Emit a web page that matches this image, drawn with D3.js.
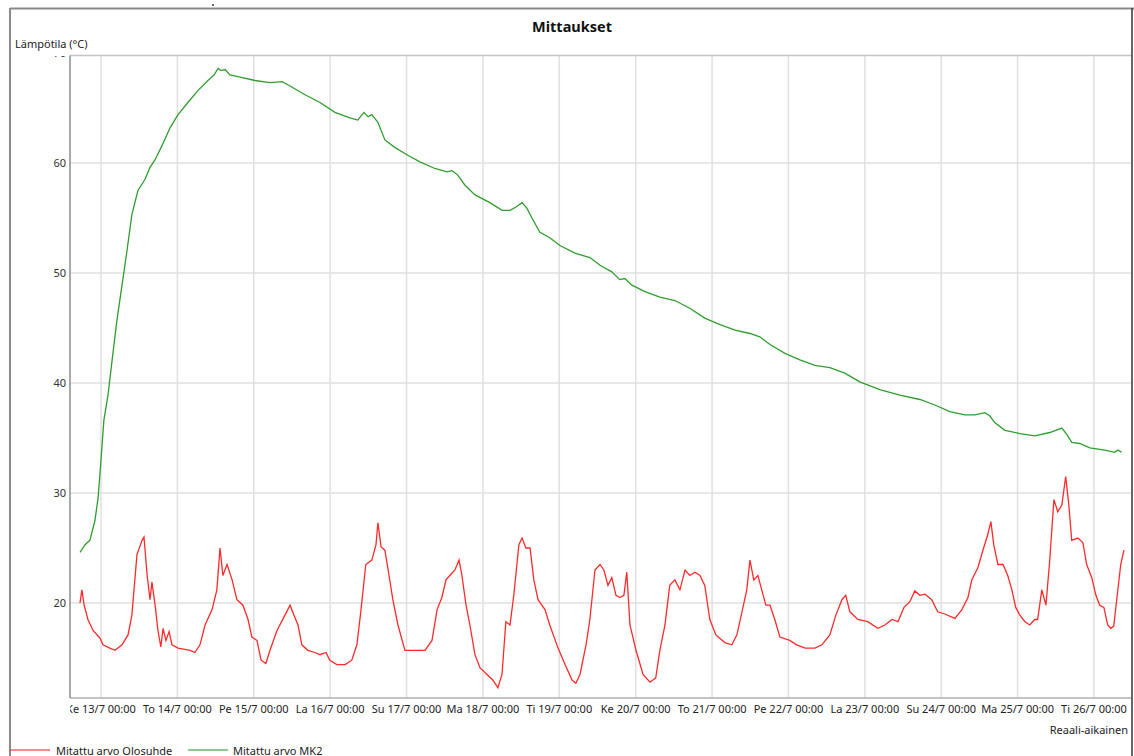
<!DOCTYPE html>
<html><head><meta charset="utf-8">
<script src="https://cdn.jsdelivr.net/npm/d3@7"></script>
<style>
html,body{margin:0;padding:0;background:#fff;}
svg{display:block;font-family:"Noto Sans","Open Sans",sans-serif;}
</style></head>
<body>
<script>
// ---------- data (hours since 12/7 00:00) ----------
const chartTitle = "Mittaukset";
const yAxisLabel = "Lämpötila (°C)";
const xAxisLabel = "Reaali-aikainen";
const seriesNames = ["Mitattu arvo Olosuhde", "Mitattu arvo MK2"];
const xTickLabels = ["Ke 13/7 00:00","To 14/7 00:00","Pe 15/7 00:00","La 16/7 00:00","Su 17/7 00:00","Ma 18/7 00:00","Ti 19/7 00:00","Ke 20/7 00:00","To 21/7 00:00","Pe 22/7 00:00","La 23/7 00:00","Su 24/7 00:00","Ma 25/7 00:00","Ti 26/7 00:00"];
const yTicks = [20, 30, 40, 50, 60, 70];

const mk2Hours = [17.4,19.0,20.5,22.1,23.1,24,24.9,26.2,27.5,29.0,30.6,32.2,33.7,35.6,37.8,39.4,41.0,43.2,45.7,48.2,51.3,54.5,57.6,59.5,60.8,61.7,63.0,64.5,67.7,72.4,77.1,80.9,83.4,88.1,92.8,97.5,102.2,104.7,106.6,107.9,109.1,111.0,113.2,116.4,120.4,124.2,128.9,132.7,134.3,136.1,138.3,141.5,146.2,150.0,152.5,154.4,156.3,157.8,159.4,161.9,165.0,168.2,172.9,177.6,180.8,184.5,187.0,188.6,190.8,194.9,199.6,204.3,209.0,213.7,218.5,223.2,227.9,231.0,234.2,238.9,243.6,248.3,253.0,257.7,262.4,268.7,275.0,281.3,286.0,290.7,295.4,298.6,301.7,303.3,304.8,308.0,312.7,317.4,322.1,325.9,327.5,329.0,331.5,334.7,339.4,342.5,343.5,344.7];
const mk2Values = [24.6,25.3,25.7,27.5,29.6,33,36.6,38.9,42.1,45.7,48.9,52.1,55.3,57.5,58.5,59.6,60.3,61.6,63.2,64.4,65.5,66.6,67.5,68,68.6,68.4,68.5,68,67.8,67.5,67.3,67.4,67,66.2,65.5,64.6,64.1,63.9,64.6,64.2,64.4,63.7,62.1,61.4,60.7,60.1,59.5,59.2,59.3,58.9,58,57.1,56.4,55.7,55.7,56,56.4,55.9,55,53.7,53.2,52.5,51.8,51.4,50.7,50.1,49.4,49.5,48.9,48.3,47.8,47.5,46.8,45.9,45.3,44.8,44.5,44.2,43.5,42.7,42.1,41.6,41.4,40.9,40.1,39.4,38.9,38.5,38,37.4,37.1,37.1,37.3,37,36.4,35.7,35.4,35.2,35.5,35.9,35.3,34.6,34.5,34.1,33.9,33.7,33.9,33.7];

const oloHours = [17.4,18.0,18.7,19.9,21.5,23.7,24.6,26.8,28.4,30.6,32.5,33.7,35.3,36.9,37.5,38.5,39.4,40.0,41.0,41.9,42.8,43.5,44.4,45.4,46.3,48.2,52.0,53.5,55.1,56.7,58.9,60.4,61.4,62.3,63.6,65.2,66.7,68.6,70.2,71.4,73.0,74.3,75.8,77.1,79.3,81.8,83.4,84.6,85.9,87.1,89.0,91.2,92.8,94.7,95.9,98.1,100.7,102.8,104.4,105.7,107.2,109.1,110.4,111.0,112.0,113.2,114.5,115.7,117.3,119.5,122.6,125.8,128.0,129.6,131.1,132.4,133.6,135.2,136.5,137.4,138.7,139.9,141.5,143.1,145.3,147.1,148.7,150.0,151.2,152.5,153.7,155.3,156.3,157.5,158.8,160.0,161.3,163.5,165.0,167.6,169.8,172.0,173.2,174.5,176.4,177.6,179.2,180.8,182.0,183.3,184.5,185.8,187.0,188.3,189.2,190.2,192.1,194.3,196.5,198.3,199.6,201.2,202.7,204.3,205.9,207.5,209.0,210.6,212.2,213.7,215.3,217.2,220.0,222.2,223.8,225.4,226.9,227.9,229.1,230.4,231.6,232.9,234.2,235.7,237.3,240.4,242.6,245.2,248.3,250.5,253.0,254.9,256.8,258.0,259.3,261.8,264.9,268.1,270.3,272.5,274.4,276.3,278.1,279.7,281.3,282.9,285.0,286.9,289.1,292.3,294.5,296.4,297.6,299.5,301.1,302.6,303.6,304.5,305.8,307.4,308.9,310.2,311.4,312.7,314.3,315.8,317.4,318.3,319.6,320.9,322.1,323.4,324.6,325.9,327.1,328.1,329.0,330.9,332.5,333.7,335.3,336.6,337.8,339.1,340.3,341.3,342.2,343.5,344.4,345.4];
const oloValues = [20,21.2,19.8,18.5,17.5,16.8,16.2,15.9,15.7,16.2,17.1,18.9,24.4,25.7,26,22.5,20.3,21.9,19.8,17.5,16,17.7,16.6,17.4,16.2,15.9,15.7,15.5,16.2,18,19.4,21.2,25,22.5,23.5,22.1,20.3,19.8,18.5,16.9,16.6,14.8,14.5,15.7,17.5,18.9,19.8,18.9,18,16.2,15.7,15.5,15.3,15.5,14.8,14.4,14.4,14.8,16.2,19.4,23.5,23.9,25.3,27.3,25.1,24.8,22.5,20.3,18,15.7,15.7,15.7,16.6,19.4,20.5,22.1,22.5,23,23.9,22.5,19.8,18,15.3,14.1,13.5,13,12.3,13.5,18.3,18,20.7,25.3,25.9,25,25,22.1,20.3,19.4,18,15.9,14.4,13,12.7,13.5,16.2,18.5,23,23.5,23,21.6,22.3,20.7,20.5,20.7,22.8,18,15.7,13.5,12.8,13.2,15.7,18,21.6,22.1,21.2,23,22.5,22.8,22.5,21.6,18.5,17.1,16.4,16.2,17.1,19.2,21.2,23.9,22.1,22.5,21.2,19.8,19.8,18.5,16.9,16.6,16.2,15.9,15.9,16.2,17.1,18.9,20.3,20.7,19.2,18.5,18.3,17.7,18,18.5,18.3,19.6,20.1,21.1,20.7,20.8,20.3,19.2,19,18.6,19.4,20.5,22.1,23.2,24.8,26.2,27.4,25.3,23.5,23.5,22.5,21.2,19.6,18.9,18.3,18,18.5,18.5,21.2,19.8,23.9,29.4,28.3,28.9,31.5,28.9,25.7,25.9,25.5,23.5,22.3,20.7,19.8,19.6,18,17.7,17.9,21.2,23.5,24.8];

const colors = { olo: "#ff2a2a", mk2: "#2f9e2f" };

// ---------- layout ----------
const W = 1134, H = 756;
const plot = { left: 70, right: 1131, top: 55.5, bottom: 698 };
const base = new Date(2016, 6, 12, 0, 0, 0);
const t = h => new Date(base.getTime() + h * 3600e3);

const svg = d3.select("body").append("svg").attr("width", W).attr("height", H);

// reference scale: 13/7 00:00 at gridline 101, 26/7 00:00 at 1094
const xRef = d3.scaleTime().domain([t(24), t(24 + 13 * 24)]).range([101, 1094]);
const x = d3.scaleTime().domain([xRef.invert(plot.left), xRef.invert(plot.right)]).range([plot.left, plot.right]);
const yRef = d3.scaleLinear().domain([20, 70]).range([603, 53]);
const y = d3.scaleLinear().domain([yRef.invert(plot.bottom), yRef.invert(plot.top)]).range([plot.bottom, plot.top]);

const defs = svg.append("defs");
defs.append("clipPath").attr("id", "plotclip").append("rect")
  .attr("x", plot.left).attr("y", plot.top).attr("width", plot.right - plot.left).attr("height", plot.bottom - plot.top);
defs.append("clipPath").attr("id", "xlabclip").append("rect")
  .attr("x", plot.left).attr("y", plot.bottom).attr("width", W - plot.left).attr("height", 30);
defs.append("clipPath").attr("id", "ylabclip").append("rect")
  .attr("x", 0).attr("y", plot.top + 0.5).attr("width", plot.left).attr("height", plot.bottom);

// outer window frame
svg.append("line").attr("x1", 10).attr("x2", 10).attr("y1", 8).attr("y2", H).attr("stroke", "#8a8a8a").attr("stroke-width", 2);
svg.append("line").attr("x1", 10).attr("x2", W).attr("y1", 8.5).attr("y2", 8.5).attr("stroke", "#8a8a8a").attr("stroke-width", 2);
svg.append("line").attr("x1", 1132).attr("x2", 1132).attr("y1", 8).attr("y2", H).attr("stroke", "#333").attr("stroke-width", 1.5);
svg.append("circle").attr("cx", 213).attr("cy", 5).attr("r", 1).attr("fill", "#334");

// title
svg.append("text").attr("x", 572).attr("y", 32).attr("text-anchor", "middle")
  .attr("font-size", 14.5).attr("font-weight", "bold").attr("fill", "#111").text(chartTitle);
// y label
svg.append("text").attr("x", 15).attr("y", 48).attr("font-size", 11).attr("fill", "#222").text(yAxisLabel);

// grid
const days = d3.range(xTickLabels.length).map(i => t(24 + i * 24));
svg.append("g").selectAll("line").data(days).join("line")
  .attr("x1", d => x(d)).attr("x2", d => x(d)).attr("y1", plot.top).attr("y2", plot.bottom)
  .attr("stroke", "#e0e0e0").attr("stroke-width", 1.5);
svg.append("g").selectAll("line").data(yTicks.filter(v => v < 70)).join("line")
  .attr("x1", plot.left).attr("x2", plot.right).attr("y1", d => y(d)).attr("y2", d => y(d))
  .attr("stroke", "#e0e0e0").attr("stroke-width", 1.5);

// plot frame
svg.append("line").attr("x1", plot.left).attr("x2", plot.right).attr("y1", plot.top).attr("y2", plot.top).attr("stroke", "#c4c4c4").attr("stroke-width", 1.5);
svg.append("line").attr("x1", plot.left).attr("x2", plot.right).attr("y1", plot.bottom).attr("y2", plot.bottom).attr("stroke", "#b0b0b0").attr("stroke-width", 1.5);
svg.append("line").attr("x1", plot.left).attr("x2", plot.left).attr("y1", plot.top).attr("y2", plot.bottom).attr("stroke", "#8c8c8c").attr("stroke-width", 1.5);

// y tick labels
svg.append("g").attr("clip-path", "url(#ylabclip)").selectAll("text").data(yTicks).join("text")
  .attr("x", 66).attr("y", d => y(d)).attr("dy", "0.35em").attr("text-anchor", "end")
  .attr("font-size", 11).attr("fill", "#333").text(d => d);

// x tick labels
svg.append("g").attr("clip-path", "url(#xlabclip)").selectAll("text").data(days).join("text")
  .attr("x", d => x(d)).attr("y", 713).attr("text-anchor", "middle")
  .attr("font-size", 11).attr("fill", "#222").text((d, i) => xTickLabels[i]);

svg.append("text").attr("x", 1128).attr("y", 734).attr("text-anchor", "end")
  .attr("font-size", 11).attr("fill", "#222").text(xAxisLabel);

// series
const line = d3.line().x(d => x(d[0])).y(d => y(d[1]));
const oloData = oloHours.map((h, i) => [t(h), oloValues[i]]);
const mk2Data = mk2Hours.map((h, i) => [t(h), mk2Values[i]]);
const g = svg.append("g").attr("clip-path", "url(#plotclip)");
g.append("path").datum(mk2Data).attr("d", line).attr("fill", "none").attr("stroke", colors.mk2).attr("stroke-width", 1.3);
g.append("path").datum(oloData).attr("d", line).attr("fill", "none").attr("stroke", colors.olo).attr("stroke-width", 1.3);

// legend
const legend = [
  { name: seriesNames[0], color: colors.olo, x1: 10, x2: 50, tx: 56 },
  { name: seriesNames[1], color: colors.mk2, x1: 188, x2: 228, tx: 233 }
];
const lg = svg.append("g");
lg.selectAll("line").data(legend).join("line")
  .attr("x1", d => d.x1).attr("x2", d => d.x2).attr("y1", 750).attr("y2", 750)
  .attr("stroke", d => d.color).attr("stroke-width", 2).attr("opacity", 0.55);
lg.selectAll("text").data(legend).join("text")
  .attr("x", d => d.tx).attr("y", 755).attr("font-size", 11).attr("fill", "#222").text(d => d.name);
</script>
</body></html>
